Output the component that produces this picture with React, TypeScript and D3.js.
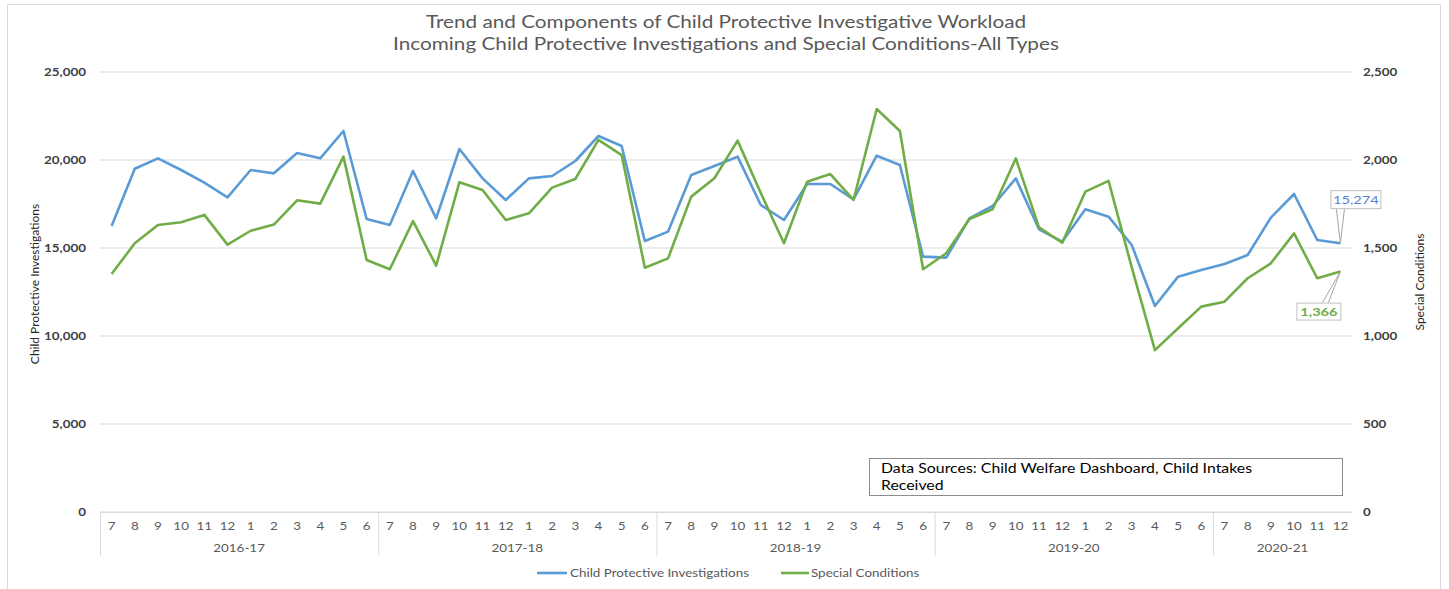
import { useEffect } from 'react';
import * as d3 from 'd3';

// fiscal years and months (Jul..Jun)
const years = ['2016-17', '2017-18', '2018-19', '2019-20', '2020-21'];
const fyMonths = [7, 8, 9, 10, 11, 12, 1, 2, 3, 4, 5, 6];
const monthsPerYear = [12, 12, 12, 12, 6];

const investigations = [
  16250, 19506, 20095, 19432, 18712, 17879, 19432, 19242, 20398, 20095, 21648, 16648,
  16307, 19375, 16686, 20625, 18958, 17727, 18958, 19091, 19943, 21364, 20795, 15398,
  15928, 19148, 19659, 20189, 17443, 16591, 18636, 18636, 17765, 20246, 19716, 14508,
  14451, 16686, 17386, 18958, 16061, 15360, 17197, 16780, 15170, 11705, 13371, 13750,
  14091, 14602, 16723, 18068, 15455, 15274,
];
const specialConditions = [
  1352, 1527, 1631, 1646, 1688, 1519, 1598, 1633, 1771, 1752, 2019, 1432,
  1379, 1653, 1400, 1873, 1830, 1659, 1697, 1843, 1892, 2114, 2028, 1388,
  1441, 1792, 1896, 2110, 1813, 1527, 1877, 1920, 1773, 2290, 2165, 1379,
  1470, 1665, 1720, 2009, 1617, 1530, 1820, 1881, 1390, 920, 1044, 1167,
  1195, 1328, 1413, 1583, 1328, 1366,
];
const leftTicks = [0, 5000, 10000, 15000, 20000, 25000];
const rightTicks = [0, 500, 1000, 1500, 2000, 2500];

const W = 1449, H = 589;
const PAD = { l: 100, r: 1352, t: 72, b: 512 };
const FONT = 'Lato, "Open Sans", sans-serif';
const BLUE = '#5B9BD5', GREEN = '#70AD47';
const SX = 1.22; // the original text is drawn a bit wide

type TProps = {
  x: number; y: number; size: number; fill: string;
  anchor?: 'start' | 'middle' | 'end'; weight?: number; children: React.ReactNode;
};
function T({ x, y, size, fill, anchor = 'start', weight = 400, children }: TProps) {
  return (
    <g transform={`translate(${x},${y}) scale(${SX},1)`}>
      <text textAnchor={anchor} fontSize={size} fontWeight={weight} fill={fill}>{children}</text>
    </g>
  );
}

export default function App() {
  useEffect(() => { document.body.style.margin = '0'; }, []);

  const cats = years.flatMap((yr, gi) =>
    fyMonths.slice(0, monthsPerYear[gi]).map(m => ({ yr, gi, m })));
  const x = d3.scaleBand<number>().domain(d3.range(cats.length)).range([PAD.l, PAD.r]);
  const cx = (i: number) => (x(i) ?? 0) + x.bandwidth() / 2;
  const yL = d3.scaleLinear().domain([0, 25000]).range([PAD.b, PAD.t]);
  const yR = d3.scaleLinear().domain([0, 2500]).range([PAD.b, PAD.t]);

  const lineL = d3.line<number>().x((_, i) => cx(i)).y(d => yL(d));
  const lineR = d3.line<number>().x((_, i) => cx(i)).y(d => yR(d));

  // group boundaries on the category axis
  const bounds: number[] = [0];
  monthsPerYear.forEach(n => bounds.push(bounds[bounds.length - 1] + n));
  const bx = (k: number) => (k < cats.length ? (x(k) ?? 0) : PAD.r);

  const last = cats.length - 1;
  const lx = cx(last);
  const lyB = yL(investigations[last]);
  const lyG = yR(specialConditions[last]);
  const fmt = d3.format(',');

  return (
    <svg width={W} height={H} style={{ display: 'block', background: '#fff' }} fontFamily={FONT}>
      <rect x={7.5} y={4.5} width={1433} height={600} fill="#fff" stroke="#d9d9d9" />

      <T x={726} y={28} size={17} fill="#595959" anchor="middle">
        Trend and Components of Child Protective Investigative Workload
      </T>
      <T x={726} y={50} size={17} fill="#595959" anchor="middle">
        Incoming Child Protective Investigations and Special Conditions-All Types
      </T>

      {/* gridlines */}
      {leftTicks.map(t => (
        <line key={t} x1={PAD.l} x2={PAD.r} y1={yL(t)} y2={yL(t)} stroke="#d9d9d9" />
      ))}
      {leftTicks.map(t => (
        <T key={'l' + t} x={86} y={yL(t) + 4} size={11} weight={700} fill="#404040" anchor="end">
          {fmt(t)}
        </T>
      ))}
      {rightTicks.map(t => (
        <T key={'r' + t} x={1363} y={yR(t) + 4} size={11} weight={700} fill="#404040">
          {fmt(t)}
        </T>
      ))}

      <text transform="translate(39,284) rotate(-90)" textAnchor="middle" fontSize={12} fill="#262626">
        Child Protective Investigations
      </text>
      <text transform="translate(1424,282) rotate(-90)" textAnchor="middle" fontSize={12} fill="#262626">
        Special Conditions
      </text>

      {/* category axis */}
      <line x1={PAD.l} x2={PAD.r} y1={PAD.b + 0.5} y2={PAD.b + 0.5} stroke="#d9d9d9" />
      {bounds.slice(0, -1).map(k => (
        <line key={'b' + k} x1={bx(k) + 0.5} x2={bx(k) + 0.5} y1={PAD.b} y2={556} stroke="#d9d9d9" />
      ))}
      {cats.map((c, i) => (
        <T key={'m' + i} x={cx(i)} y={530} size={11} fill="#595959" anchor="middle">{c.m}</T>
      ))}
      {years.map((yr, gi) => (
        <T key={yr} x={(bx(bounds[gi]) + bx(bounds[gi + 1])) / 2} y={552} size={11} fill="#595959" anchor="middle">
          {yr}
        </T>
      ))}

      {/* data source note */}
      <rect x={869.5} y={458.5} width={473} height={37} fill="#fff" stroke="#8c8c8c" />
      <T x={881} y={473} size={13} fill="#000">Data Sources: Child Welfare Dashboard, Child Intakes</T>
      <T x={881} y={490} size={13} fill="#000">Received</T>

      {/* series */}
      <path d={lineL(investigations) ?? ''} fill="none" stroke={BLUE} strokeWidth={2.6} strokeLinejoin="round" />
      <path d={lineR(specialConditions) ?? ''} fill="none" stroke={GREEN} strokeWidth={2.6} strokeLinejoin="round" />

      {/* data labels */}
      <path d={`M${lx - 4},${lyB - 34} L${lx},${lyB} L${lx + 4},${lyB - 34}`} fill="none" stroke="#a6a6a6" />
      <rect x={lx - 9.5} y={lyB - 52.5} width={50} height={18} fill="#fff" stroke="#bfbfbf" />
      <T x={lx + 15.5} y={lyB - 39} size={12} fill="#5b7fd6" anchor="middle">
        {fmt(investigations[last])}
      </T>

      <path d={`M${lx - 18},${lyG + 31} L${lx},${lyG} L${lx - 12},${lyG + 31}`} fill="none" stroke="#a6a6a6" />
      <rect x={lx - 43.5} y={lyG + 31.5} width={44} height={17} fill="#fff" stroke="#bfbfbf" />
      <T x={lx - 21.5} y={lyG + 44.5} size={12} weight={700} fill={GREEN} anchor="middle">
        {fmt(specialConditions[last])}
      </T>

      {/* legend */}
      <line x1={537} x2={567} y1={573} y2={573} stroke={BLUE} strokeWidth={2.6} />
      <T x={570} y={577} size={11} fill="#595959">Child Protective Investigations</T>
      <line x1={781} x2={809} y1={573} y2={573} stroke={GREEN} strokeWidth={2.6} />
      <T x={811} y={577} size={11} fill="#595959">Special Conditions</T>
    </svg>
  );
}
